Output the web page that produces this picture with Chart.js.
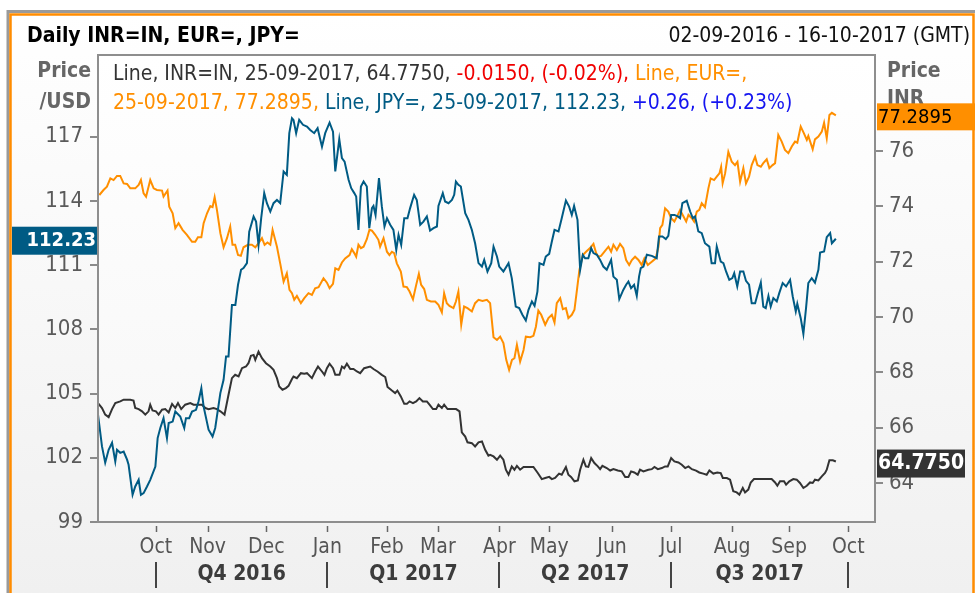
<!DOCTYPE html>
<html>
<head>
<meta charset="utf-8">
<script src="https://cdn.jsdelivr.net/npm/chart.js@4.4.1/dist/chart.umd.min.js"></script>
<style>
html, body { margin: 0; padding: 0; background: #fff; }
canvas { display: block; }
</style>
</head>
<body>
<canvas id="chart" width="975" height="593"></canvas>
<script>
// x = position in trading days from 02-09-2016 (as laid out on the chart's axis)
const monthPos = [30.5, 57.7, 88.6, 120.7, 152.1, 178.9, 211.3, 237.5, 270.6, 301.7, 333.8, 363.8, 394.9];
const monthNames = ['Oct', 'Nov', 'Dec', 'Jan', 'Feb', 'Mar', 'Apr', 'May', 'Jun', 'Jul', 'Aug', 'Sep', 'Oct'];
const quarterNames = ['Q4 2016', 'Q1 2017', 'Q2 2017', 'Q3 2017'];
const leftTicks = [99, 102, 105, 108, 111, 114, 117];
const rightTicks = [64, 66, 68, 70, 72, 74, 76];

// JPY= (left axis, price /USD)
const jpy = [[0,104.01],[2.1,102.53],[3.8,101.77],[5.6,102.37],[7.4,102.70],[9.1,101.83],[10,102.37],[11.7,102.23],[13.5,102.29],[15.3,101.91],[16.1,101.67],[18.2,100.27],[19.6,100.66],[21.4,100.97],[22.6,100.27],[24,100.35],[25.8,100.66],[27.5,100.97],[30.2,101.59],[31.4,102.92],[32.8,103.39],[34.5,103.85],[36.3,102.92],[37.2,103.62],[39.3,103.69],[40.7,104.16],[43.3,103.93],[45.4,103.39],[46.3,103.85],[48,103.85],[49.5,104.16],[51.6,104.24],[52.9,104.63],[54.4,105.25],[55.6,104.39],[58.2,103.31],[60.3,102.99],[61.7,103.39],[64.4,105.02],[66.1,105.64],[67.4,106.73],[68.7,106.73],[70.5,109.14],[72.3,109.14],[73.7,110.08],[75.3,110.78],[76.6,110.86],[78.4,111.09],[79.6,112.56],[81.9,113.27],[83.2,113.03],[84.5,111.94],[85.9,113.19],[87.5,114.36],[88.9,113.89],[90.7,113.50],[92.4,113.89],[94.2,114.04],[95.9,113.89],[97.7,115.37],[99.4,115.21],[100.7,117.16],[102.1,117.86],[102.9,117.78],[104.3,117.16],[105.9,117.78],[107.9,117.55],[110,117.47],[111.7,117.31],[113.8,117.16],[115.6,117.39],[117.9,116.53],[119.6,117.16],[121.9,117.65],[123.7,117.23],[124.9,115.37],[127,116.88],[128.4,115.99],[129.8,115.83],[131.9,114.98],[133.3,114.59],[134.9,114.36],[135.9,114.20],[137.1,112.64],[138.4,114.67],[139.8,114.90],[141.5,114.67],[142.8,112.72],[144.2,113.66],[145,113.76],[146.1,113.34],[147.9,115.06],[149.4,113.74],[150.8,112.80],[152.1,113.19],[153.8,112.88],[155.5,112.64],[157,111.71],[158.2,112.41],[159.6,111.94],[161.2,113.19],[162.9,113.19],[164.3,113.66],[166.4,114.28],[167.8,114.04],[169.6,112.88],[171.3,113.03],[173.1,113.27],[174.8,112.61],[176.6,112.72],[178.4,112.80],[179.2,113.76],[181.5,114.36],[182.7,113.97],[184.5,113.89],[186.3,114.04],[187.5,114.28],[188.4,114.90],[189.7,114.75],[191,114.67],[193.3,113.42],[195,113.11],[196.8,112.64],[198.5,112.02],[200.3,111.09],[202.1,110.93],[203.3,111.24],[205,110.70],[207,111.09],[208.2,111.86],[210,111.40],[211.2,110.93],[213.4,110.70],[216.1,111.09],[217.8,110.39],[219.9,109.06],[221.7,108.99],[223.4,108.68],[225.2,108.41],[226.6,108.91],[228.4,109.30],[229.8,109.10],[231.3,109.76],[232.4,111.09],[234.5,111.01],[235.7,111.40],[237.5,111.52],[238.9,112.10],[240.3,112.64],[242.4,112.57],[244.1,113.19],[246.3,114.01],[248,113.73],[249.4,113.34],[250.6,113.76],[252.4,113.11],[253.8,110.78],[255.2,111.48],[256.4,111.32],[258.1,111.32],[259.6,111.79],[260.8,111.56],[262.6,111.48],[264.3,111.24],[266,110.93],[267.8,110.78],[270.1,111.24],[271.3,110.46],[273.1,110.31],[274.4,109.41],[276.5,109.84],[278,110.08],[279.2,110.23],[280.6,109.92],[282.2,110.08],[283.6,109.56],[284.8,110.46],[285.7,110.86],[287.1,110.93],[288.9,111.48],[291.5,111.43],[294.1,111.32],[295.3,112.33],[297.1,112.33],[298.9,112.21],[300.2,112.36],[301.7,113.34],[303.4,113.34],[305.2,113.27],[306.4,113.19],[307.6,113.89],[309.9,114.00],[311.7,113.50],[313.1,113.19],[314.3,113.27],[316,112.57],[317.8,112.49],[319.5,112.02],[321.8,111.86],[323,111.09],[324.8,111.09],[325.7,111.86],[327.8,111.16],[329.2,111.09],[330.6,110.70],[332.3,110.31],[333.9,110.39],[334.9,110.62],[336.5,110.00],[338,110.70],[339.7,110.70],[341.1,110.26],[342.7,110.08],[344.1,109.22],[345.9,109.22],[347.1,109.61],[348.9,110.18],[350.2,109.06],[351.5,108.99],[352.9,109.56],[354.1,109.06],[355.5,109.46],[357.3,109.30],[358.6,109.69],[360.4,110.16],[362.2,110.00],[364.3,110.31],[365.7,109.53],[367.3,108.83],[368.1,109.19],[369.9,108.52],[371.3,107.79],[372.7,108.99],[373.9,110.16],[375.7,110.39],[377.4,110.18],[379.2,110.78],[380.1,111.58],[382.2,111.63],[383.6,112.30],[385.4,112.49],[386.3,112.02],[388.4,112.23]];

// EUR= (right axis)
const eur = [[0.7,74.41],[2.9,74.59],[4.7,74.71],[6.5,75.01],[8.2,74.95],[10,75.10],[11.7,75.10],[13.5,74.83],[15.3,74.81],[17,74.65],[19.6,74.65],[21.4,74.77],[22.6,74.95],[24,74.47],[25.3,74.35],[27.5,74.95],[29.3,74.65],[31,74.59],[33.7,74.57],[34.5,74.35],[36.6,74.57],[37.5,73.99],[39.3,73.75],[40.7,73.21],[42.4,73.39],[44.5,73.15],[46.8,72.97],[49.5,72.72],[51.2,72.72],[52.6,72.88],[54.4,72.88],[55.6,73.39],[57.4,73.75],[59.1,74.01],[60.3,73.97],[61.4,74.33],[62.6,73.87],[64.4,73.03],[66.1,72.52],[67.9,72.85],[69.6,73.27],[70.8,72.61],[72.2,72.61],[73.7,72.24],[75.2,72.21],[76.6,72.52],[78.9,72.61],[81,72.61],[82.8,72.52],[84.5,72.67],[86.3,72.85],[87.7,72.61],[89.2,72.69],[90.7,72.61],[91.9,73.15],[94.2,72.54],[95.9,71.94],[97.7,71.28],[99.4,71.58],[100.8,70.98],[102.1,70.86],[103.3,70.62],[104.7,70.76],[106.8,70.50],[108.6,70.68],[110.8,70.86],[112.6,70.80],[114.3,71.04],[116.1,71.08],[118.7,71.40],[120.5,71.24],[121.9,71.04],[123.7,71.20],[124.9,71.76],[126.6,71.70],[128.4,71.97],[130.1,72.12],[132.4,72.24],[133.6,72.45],[134.9,72.31],[135.9,72.18],[137.1,72.61],[138.4,72.49],[139.8,72.54],[141.5,72.81],[142.9,73.15],[144.2,73.12],[145.9,72.97],[147.6,72.79],[148.5,72.54],[150.3,72.85],[152.1,72.36],[153.4,72.24],[154.7,72.36],[155.9,72.31],[157.3,71.94],[159.4,71.64],[160.8,71.10],[162.6,71.08],[164,70.92],[165.8,70.64],[167.5,71.16],[168.9,71.56],[170.1,71.16],[171.7,71.01],[173.1,70.62],[175.2,70.56],[177.5,70.56],[179.2,70.44],[181,70.17],[182.2,70.86],[183.6,70.50],[185,70.40],[187.1,70.32],[188.4,70.56],[189.7,70.92],[191.2,69.72],[192.7,70.38],[194.5,70.32],[196.8,70.20],[198.5,70.50],[200.3,70.62],[202.4,70.58],[204.7,70.62],[206.4,70.50],[208.2,69.27],[210,69.17],[211.7,69.29],[213.4,69.06],[214.9,68.45],[216.4,68.09],[217.9,68.45],[219.2,68.51],[220.5,68.99],[222.2,68.39],[224,68.81],[225.2,69.29],[227.5,69.27],[229.2,69.32],[230.5,69.65],[231.8,70.23],[233.3,70.08],[235.4,69.72],[237.1,69.96],[238.9,70.08],[240.3,69.80],[241.5,70.50],[243.3,70.68],[244.7,70.28],[246.3,70.32],[247.6,69.96],[249.4,70.08],[250.8,70.26],[252,70.92],[253.4,71.70],[255.2,72.24],[256.9,72.36],[259,72.49],[260.8,72.64],[262.2,72.31],[263.4,72.18],[264.8,72.21],[266.6,72.36],[268.7,72.54],[270.1,72.36],[271.3,72.61],[273.1,72.42],[274.8,72.64],[276.5,72.49],[278,72.06],[279.6,71.88],[281,72.06],[282.7,72.18],[284.5,72.06],[286.2,71.88],[287.6,72.12],[289.4,71.88],[291.5,72.00],[293.6,72.12],[295,72.54],[295.9,73.21],[297.1,73.33],[298.5,73.93],[300.2,73.81],[301.7,73.57],[303.4,73.45],[305.2,73.69],[306.4,73.87],[308.2,73.63],[309.6,73.45],[310.8,73.69],[312.6,73.57],[313.8,73.45],[315.2,73.81],[316.5,73.87],[317.8,74.11],[319.5,73.97],[321.3,74.65],[322.5,75.01],[324.3,74.95],[325.7,75.07],[327.1,75.19],[328,75.43],[328.8,74.83],[330.1,75.19],[331.8,75.97],[333.6,75.61],[335.3,75.49],[336.6,75.61],[338,74.89],[339.7,75.38],[341.1,74.83],[342.7,75.07],[344.1,75.49],[345.9,75.79],[347.1,75.49],[348.9,75.43],[350.2,75.56],[352,75.70],[353.4,75.38],[355.1,75.49],[356.4,75.56],[358.1,76.58],[359.9,76.34],[361.6,76.04],[363.4,75.92],[365.2,76.16],[366.9,76.34],[368.1,76.30],[369.9,76.88],[371.6,76.64],[373.1,76.40],[373.9,76.54],[376.2,76.06],[377.4,76.42],[379.2,76.52],[381,76.70],[382.2,77.02],[383.6,76.46],[385,77.30],[386.3,77.38],[388.4,77.2895]];

// INR=IN (right axis)
const inr = [[0,66.89],[2.1,66.71],[3.8,66.47],[5.6,66.38],[7.4,66.67],[9.1,66.89],[11.7,66.95],[13.5,67.01],[17,67.01],[18.7,66.98],[19.6,66.71],[21.4,66.67],[23.2,66.59],[24.9,66.47],[26.6,66.59],[27.5,66.83],[28.7,66.62],[30.5,66.59],[31.9,66.47],[33.7,66.65],[35.4,66.67],[37.2,66.55],[39,66.86],[40.7,66.71],[42.1,66.89],[43.8,66.67],[45.9,66.83],[48.6,66.89],[50.3,66.83],[52.9,66.83],[54.7,66.83],[56.5,66.71],[58.2,66.67],[60.8,66.71],[62.6,66.67],[64.4,66.59],[66.6,66.47],[68.7,67.19],[70.5,67.79],[72.2,67.91],[74,67.85],[75.8,68.15],[77.9,68.21],[79.2,68.33],[80.5,68.60],[81.9,68.63],[82.8,68.45],[84.5,68.75],[86.3,68.51],[88.4,68.33],[90.7,68.21],[92.4,68.09],[94.2,67.79],[95.4,67.49],[97.1,67.37],[98.9,67.43],[100.3,67.51],[102.1,67.76],[102.9,67.85],[104.7,67.79],[106.8,67.97],[108.6,67.95],[110,67.97],[112.6,67.79],[114.3,68.03],[115.8,68.21],[117.9,68.03],[119.2,67.91],[120.5,68.15],[121.9,68.31],[123.7,68.15],[124.9,67.91],[127.1,67.91],[128.4,68.21],[129.6,68.15],[131,68.31],[132.8,68.12],[134.5,68.12],[136.3,68.03],[138,67.97],[140.1,68.15],[143.3,68.21],[145,68.12],[147.1,68.03],[149.4,67.91],[151.2,67.83],[152.4,67.47],[154.7,67.34],[156.4,67.25],[157.6,67.34],[159.4,67.13],[161.2,66.86],[162.6,66.86],[164,66.95],[165.8,66.89],[167.5,66.95],[169.2,67.07],[171,66.95],[173.1,66.95],[174.5,66.83],[176.3,66.67],[178,66.67],[179.2,66.83],[181,66.71],[182.2,66.83],[184,66.67],[186.3,66.67],[188.5,66.67],[190.3,66.59],[191.5,65.83],[193.3,65.68],[194.5,65.47],[196.8,65.44],[198.5,65.32],[200.3,65.47],[202.1,65.50],[203.8,65.20],[205.5,64.99],[206.4,65.02],[208.2,64.96],[210,64.84],[211.7,64.99],[213.4,64.84],[214.7,64.48],[216.1,64.30],[217.8,64.60],[219.2,64.48],[220.5,64.62],[222.2,64.48],[224,64.58],[226.6,64.58],[229.2,64.58],[231.5,64.36],[233.6,64.14],[235.4,64.18],[237.5,64.22],[238.9,64.14],[240.6,64.18],[242.7,64.34],[244.1,64.30],[246.3,64.58],[247.6,64.30],[249,64.22],[250.8,64.06],[252.6,64.09],[253.8,64.48],[255.5,64.84],[256.8,64.60],[258.1,64.58],[259.6,64.90],[261.3,64.72],[263.1,64.60],[264.3,64.50],[265.5,64.62],[267.8,64.54],[269.6,64.45],[271.3,64.50],[273.6,64.45],[275.7,64.42],[277.5,64.22],[279.2,64.22],[280.6,64.42],[282.3,64.38],[284.1,64.30],[285.3,64.48],[287.1,64.42],[289.7,64.48],[291.5,64.50],[292.9,64.58],[294.7,64.50],[296.8,64.54],[298.5,64.60],[299.9,64.60],[301.7,64.90],[303.4,64.78],[305.5,64.74],[307.3,64.66],[309.1,64.54],[310.8,64.60],[312.6,64.50],[314.8,64.45],[316.5,64.38],[318.6,64.34],[320.4,64.30],[321.8,64.45],[323.9,64.34],[326,64.38],[327.8,64.36],[328.9,64.18],[331,64.18],[332.7,64.12],[334.4,63.70],[336.2,63.66],[337.6,63.58],[339.4,63.82],[340.6,63.66],[342.3,63.76],[343.6,64.02],[345.3,64.14],[348.5,64.14],[351.6,64.14],[354.6,64.14],[356.4,64.02],[357.6,63.90],[359,64.06],[361.1,64.06],[362.2,63.94],[363.9,64.06],[366,64.14],[367.8,64.12],[369.5,64.00],[371.3,63.82],[373.1,63.90],[374.8,64.02],[376.2,64.00],[377.4,64.12],[379.2,64.09],[381,64.24],[382.7,64.36],[383.6,64.48],[385,64.82],[386.8,64.82],[388.4,64.775]];

// quote box text, as shown on the chart
const quoteDate = '25-09-2017';
const inrQuote = ['64.7750', '-0.0150', '(-0.02%)'];
const eurQuote = ['77.2895'];
const jpyQuote = ['112.23', '+0.26', '(+0.23%)'];

const FONT = '"DejaVu Sans Condensed", "DejaVu Sans", sans-serif';
const INR_COLOR = '#333333';
const EUR_COLOR = '#ff8f00';
const JPY_COLOR = '#005b84';

Chart.defaults.font.family = FONT;

function text(ctx, s, x, y, font, color, align) {
    ctx.font = font;
    ctx.fillStyle = color;
    ctx.textAlign = align || 'left';
    ctx.textBaseline = 'middle';
    ctx.fillText(s, x, y);
    return ctx.measureText(s).width;
}

const decor = {
    id: 'decor',
    beforeDraw(chart) {
        const { ctx, width, height, chartArea: a } = chart;
        ctx.save();
        ctx.fillStyle = '#fff';
        ctx.fillRect(0, 0, width, height);
        let g = ctx.createLinearGradient(0, 14, 0, height);
        g.addColorStop(0, '#ffffff');
        g.addColorStop(1, '#f0f0f0');
        ctx.fillStyle = g;
        ctx.fillRect(9, 14, width - 9, height - 14);
        g = ctx.createLinearGradient(0, a.top, 0, a.bottom);
        g.addColorStop(0, '#ffffff');
        g.addColorStop(1, '#f6f6f6');
        ctx.fillStyle = g;
        ctx.fillRect(a.left, a.top, a.right - a.left, a.bottom - a.top);
        // outer frame
        ctx.strokeStyle = '#9a9a9a';
        ctx.lineWidth = 3;
        ctx.beginPath();
        ctx.moveTo(8, height);
        ctx.lineTo(8, 11.5);
        ctx.lineTo(width, 11.5);
        ctx.stroke();
        ctx.strokeStyle = '#ff8c00';
        ctx.lineWidth = 2.5;
        ctx.beginPath();
        ctx.moveTo(10.5, height);
        ctx.lineTo(10.5, 14.5);
        ctx.lineTo(973.5, 14.5);
        ctx.lineTo(973.5, height);
        ctx.stroke();
        ctx.restore();
    },
    afterDraw(chart) {
        const { ctx, chartArea: a, scales } = chart;
        const x = scales.x, yL = scales.yL, yR = scales.yR;
        ctx.save();
        // plot frame
        ctx.strokeStyle = '#8e8e8e';
        ctx.lineWidth = 2;
        ctx.strokeRect(a.left, a.top, a.right - a.left, a.bottom - a.top);
        // month tick marks
        ctx.strokeStyle = '#666';
        ctx.lineWidth = 1.5;
        monthPos.forEach(v => {
            const px = Math.round(x.getPixelForValue(v)) + 0.5;
            ctx.beginPath();
            ctx.moveTo(px, a.bottom + 4);
            ctx.lineTo(px, a.bottom + 10);
            ctx.stroke();
        });
        // quarter separators and labels
        const qIdx = [0, 3, 6, 9, 12];
        ctx.strokeStyle = '#444';
        ctx.lineWidth = 2;
        qIdx.forEach(i => {
            const px = Math.round(x.getPixelForValue(monthPos[i]));
            ctx.beginPath();
            ctx.moveTo(px, a.bottom + 40);
            ctx.lineTo(px, a.bottom + 66);
            ctx.stroke();
        });
        quarterNames.forEach((q, i) => {
            const p0 = x.getPixelForValue(monthPos[qIdx[i]]);
            const p1 = x.getPixelForValue(monthPos[qIdx[i + 1]]);
            text(ctx, q, (p0 + p1) / 2, a.bottom + 53, 'bold 21px ' + FONT, '#3c3c3c', 'center');
        });

        // title row
        text(ctx, 'Daily INR=IN, EUR=, JPY=', 27, 37, 'bold 21px ' + FONT, '#000');
        text(ctx, '02-09-2016 - 16-10-2017 (GMT)', 970, 37, '21px ' + FONT, '#111', 'right');

        // axis titles
        text(ctx, 'Price', 91, 72, 'bold 21px ' + FONT, '#666', 'right');
        text(ctx, '/USD', 91, 103, 'bold 21px ' + FONT, '#666', 'right');
        text(ctx, 'Price', 887, 72, 'bold 21px ' + FONT, '#666');
        text(ctx, 'INR', 887, 100, 'bold 21px ' + FONT, '#666');

        // quote lines
        const f = '21px ' + FONT;
        const line1 = [
            ['Line, INR=IN, ' + quoteDate + ', ' + inrQuote[0] + ', ', INR_COLOR],
            [inrQuote[1] + ', ' + inrQuote[2] + ', ', '#f00000'],
            ['Line, EUR=,', EUR_COLOR]
        ];
        const line2 = [
            [quoteDate + ', ' + eurQuote[0] + ', ', EUR_COLOR],
            ['Line, JPY=, ' + quoteDate + ', ' + jpyQuote[0] + ', ', JPY_COLOR],
            [jpyQuote[1] + ', ' + jpyQuote[2], '#1414f0']
        ];
        [[line1, 75], [line2, 104]].forEach(([segs, yy]) => {
            let xx = 113;
            segs.forEach(([s, c]) => { xx += text(ctx, s, xx, yy, f, c); });
        });

        // last-value tags
        let py = yL.getPixelForValue(jpy[jpy.length - 1][1]);
        ctx.fillStyle = JPY_COLOR;
        ctx.fillRect(12, py - 12, a.left - 13, 28);
        text(ctx, jpyQuote[0], a.left - 2, py + 2, 'bold 20px ' + FONT, '#fff', 'right');

        py = yR.getPixelForValue(eur[eur.length - 1][1]);
        ctx.fillStyle = EUR_COLOR;
        ctx.fillRect(a.right + 2, py - 12, 975 - a.right - 2, 27);
        text(ctx, eurQuote[0], a.right + 3, py + 2, '20px ' + FONT, '#000');

        py = yR.getPixelForValue(inr[inr.length - 1][1]);
        ctx.fillStyle = '#333';
        ctx.fillRect(a.right + 2, py - 12, 88, 28);
        text(ctx, inrQuote[0], a.right + 3, py + 2, 'bold 21px ' + FONT, '#fff');
        ctx.restore();
    }
};

const toPts = rows => rows.map(([x, y]) => ({ x, y }));
const line = (label, rows, axis, color) => ({
    label, data: toPts(rows), yAxisID: axis,
    borderColor: color, backgroundColor: color,
    borderWidth: 2, pointRadius: 0, tension: 0, fill: false
});

const ctx = document.getElementById('chart').getContext('2d');
new Chart(ctx, {
    type: 'line',
    data: {
        datasets: [
            line('JPY=', jpy, 'yL', JPY_COLOR),
            line('EUR=', eur, 'yR', EUR_COLOR),
            line('INR=IN', inr, 'yR', INR_COLOR),
        ],
    },
    options: {
        responsive: false,
        devicePixelRatio: 1,
        animation: false,
        layout: { padding: { top: 55, left: 0, right: 0, bottom: 0 } },
        plugins: {
            legend: { display: false },
            tooltip: { enabled: false },
        },
        scales: {
            x: {
                type: 'linear', min: 0, max: 409,
                afterFit: s => { s.height = 71; },
                afterBuildTicks: s => { s.ticks = monthPos.map(v => ({ value: v })); },
                ticks: {
                    callback: (v, i) => monthNames[i],
                    color: '#555', font: { size: 21 }, padding: 13,
                    maxRotation: 0, autoSkip: false,
                },
                grid: { display: false, drawTicks: false },
                border: { display: false },
            },
            yL: {
                position: 'left', min: 99, max: 120.81,
                afterFit: s => { s.width = 98; },
                afterBuildTicks: s => { s.ticks = leftTicks.map(v => ({ value: v })); },
                ticks: { color: '#5a5a5a', font: { size: 22 }, padding: 7 },
                grid: { drawOnChartArea: false, tickLength: 8, color: '#8a8a8a', lineWidth: 2 },
                border: { display: false },
            },
            yR: {
                position: 'right', min: 62.59, max: 79.47,
                afterFit: s => { s.width = 100; },
                afterBuildTicks: s => { s.ticks = rightTicks.map(v => ({ value: v })); },
                ticks: { color: '#5a5a5a', font: { size: 22 }, padding: 6 },
                grid: { drawOnChartArea: false, tickLength: 8, color: '#8a8a8a', lineWidth: 2 },
                border: { display: false },
            },
        },
    },
    plugins: [decor],
});
</script>
</body>
</html>
